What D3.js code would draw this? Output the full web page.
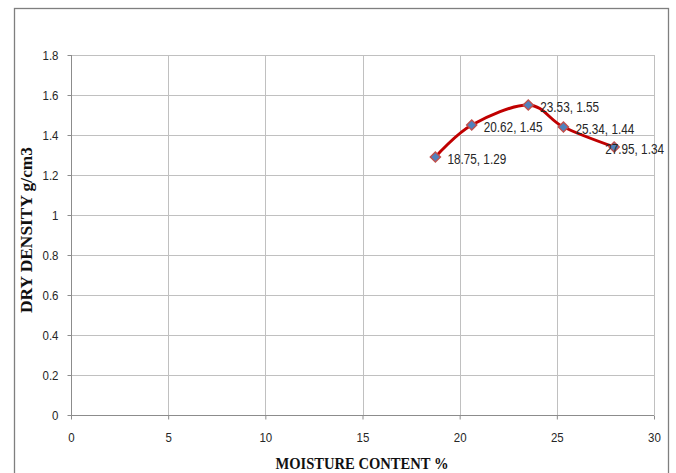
<!DOCTYPE html>
<html><head><meta charset="utf-8">
<script src="https://cdn.jsdelivr.net/npm/d3@7"></script>
<style>body{margin:0;background:#fff}svg{display:block}</style>
</head><body>
<svg id="c" width="676" height="473"></svg>
<script>
const moisture = [18.75, 20.62, 23.53, 25.34, 27.95];
const density = [1.29, 1.45, 1.55, 1.44, 1.34];
const xTicks = [0, 5, 10, 15, 20, 25, 30];
const yTicks = [0, 0.2, 0.4, 0.6, 0.8, 1, 1.2, 1.4, 1.6, 1.8];
const xTitle = "MOISTURE CONTENT %";
const yTitle = "DRY DENSITY g/cm3";

const svg = d3.select("#c");
const m = {l: 71, r: 654, t: 55, b: 415};
const x = d3.scaleLinear().domain([0, 30]).range([m.l, m.r]);
const y = d3.scaleLinear().domain([0, 1.8]).range([m.b, m.t]);

svg.append("rect").attr("x", 14.5).attr("y", 8.5).attr("width", 654).attr("height", 480)
  .attr("fill", "#fff").attr("stroke", "#7f7f7f").attr("stroke-width", 1.3);

const g = svg.append("g");
g.selectAll("line.hg").data(yTicks.filter(d => d > 0)).join("line")
  .attr("x1", m.l).attr("x2", m.r).attr("y1", d => Math.round(y(d)) + 0.5).attr("y2", d => Math.round(y(d)) + 0.5)
  .attr("stroke", "#c0c0c0").attr("stroke-width", 1);
g.selectAll("line.vg").data(xTicks.filter(d => d > 0)).join("line")
  .attr("y1", m.t).attr("y2", m.b).attr("x1", d => Math.round(x(d)) + 0.5).attr("x2", d => Math.round(x(d)) + 0.5)
  .attr("stroke", "#c0c0c0").attr("stroke-width", 1);

const font = "'Liberation Sans', sans-serif";
function squeeze(sel, f) {
  sel.each(function() {
    const w = this.getComputedTextLength();
    d3.select(this).attr("textLength", w * f).attr("lengthAdjust", "spacingAndGlyphs");
  });
}
const yAxis = d3.axisLeft(y).tickValues(yTicks).tickSize(4).tickPadding(9).tickFormat(d => String(+d.toFixed(1)));
const xAxis = d3.axisBottom(x).tickValues(xTicks).tickSize(4).tickPadding(13);
const ya = svg.append("g").attr("transform", `translate(${m.l + 0.5},0)`).call(yAxis);
const xa = svg.append("g").attr("transform", `translate(0,${m.b + 0.5})`).call(xAxis);
[ya, xa].forEach(a => {
  a.select(".domain").attr("stroke", "#8c8c8c");
  a.selectAll(".tick line").attr("stroke", "#8c8c8c");
  a.selectAll("text").attr("font-family", font).attr("font-size", 13.5).attr("fill", "#262626");
  squeeze(a.selectAll("text"), 0.85);
});
ya.select(".domain").attr("d", `M0,${m.t}V${m.b}`);
xa.select(".domain").attr("d", `M${m.l},0H${m.r}`);

svg.append("text").attr("x", 362).attr("y", 469).attr("text-anchor", "middle")
  .attr("font-family", "'Liberation Serif', serif").attr("font-weight", "bold").attr("font-size", 17.5)
  .attr("fill", "#111")
  .attr("textLength", 173).attr("lengthAdjust", "spacingAndGlyphs").text(xTitle);
svg.append("text").attr("transform", `translate(32,230) rotate(-90)`).attr("text-anchor", "middle")
  .attr("font-family", "'Liberation Serif', serif").attr("font-weight", "bold").attr("font-size", 17.5)
  .attr("fill", "#111")
  .attr("textLength", 166).attr("lengthAdjust", "spacingAndGlyphs").text(yTitle);

const pts = moisture.map((mv, i) => [x(mv), y(density[i])]);
svg.append("path").attr("d", d3.line().curve(d3.curveCardinal.tension(0))(pts))
  .attr("fill", "none").attr("stroke", "#c00000").attr("stroke-width", 3);

svg.selectAll("path.mk").data(pts).join("path")
  .attr("d", d3.symbol().type(d3.symbolDiamond2).size(66))
  .attr("transform", d => `translate(${d[0]},${d[1]})`)
  .attr("fill", "#4f81bd").attr("stroke", "#c0504d").attr("stroke-width", 1.4);

const lbl = svg.selectAll("text.lb").data(moisture).join("text")
  .attr("font-family", font).attr("font-size", 14).attr("fill", "#262626")
  .attr("dominant-baseline", "central")
  .text((mv, i) => `${mv}, ${density[i]}`);
lbl.each(function(mv, i) {
  const w = this.getComputedTextLength() * 0.84;
  d3.select(this).attr("textLength", w).attr("lengthAdjust", "spacingAndGlyphs");
  let lx = x(mv) + 12;
  if (lx + w > 664) lx = 664 - w;
  d3.select(this).attr("x", lx).attr("y", y(density[i]) + 1.5);
});
</script>
</body></html>
